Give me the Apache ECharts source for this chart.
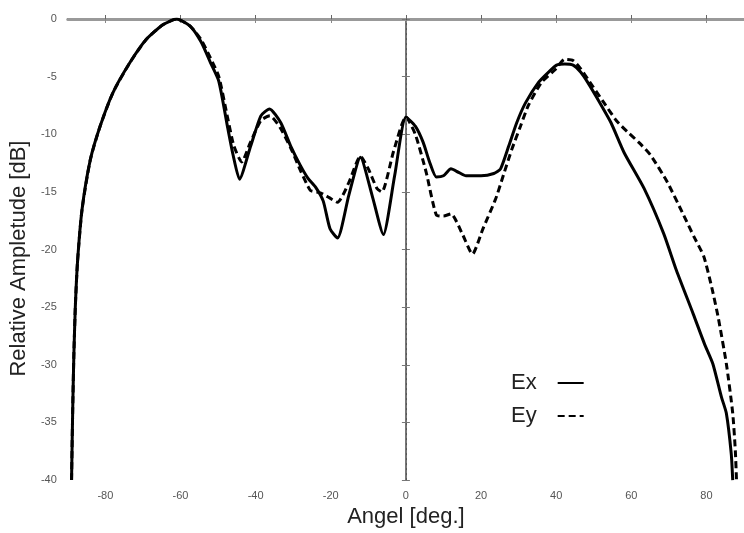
<!DOCTYPE html>
<html>
<head>
<meta charset="utf-8">
<script src="https://cdn.jsdelivr.net/npm/echarts@6/dist/echarts.min.js"></script>
<style>html,body{margin:0;padding:0;background:#fff}#c{width:744px;height:533px}</style>
</head>
<body>
<div id="c"></div>
<script>
// Angle (deg) and relative amplitude (dB)
const exData = [
  [-89,-40],[-88.7,-34],[-88.4,-29.3],[-88,-25],[-87.4,-21],[-86.2,-16.5],[-84,-12.2],
  [-81.4,-9.3],[-78,-6.4],[-73.5,-3.8],[-69.2,-1.8],[-64.7,-0.5],[-61,0],[-57.5,-0.6],
  [-54.5,-2],[-52,-3.8],[-49.8,-5.4],[-47.4,-9.5],[-46,-11.8],[-44.3,-13.9],[-41.3,-11],
  [-38.6,-8.4],[-36.3,-7.8],[-33.3,-9],[-30.7,-11],[-28.1,-12.7],[-26.1,-13.8],[-24,-14.6],
  [-22,-15.8],[-20.2,-18.2],[-18.2,-19],[-15.2,-15.3],[-12.1,-12],[-9,-15.3],[-6,-18.7],
  [-3,-13.6],[0,-8.5],[2.5,-9.3],[4.6,-10.7],[6.3,-12.4],[8.1,-13.7],[10,-13.6],[12,-13],
  [14,-13.3],[16,-13.6],[20,-13.6],[23.4,-13.4],[25.2,-13],[27.4,-11],[29.5,-9],[31.8,-7.3],
  [35.3,-5.5],[38,-4.6],[40.1,-4],[42.3,-3.9],[44.5,-4],[46.5,-4.6],[48.4,-5.5],[51.5,-7.2],
  [54.6,-9],[58.1,-11.6],[63.4,-14.7],[68.6,-18.6],[72,-21.8],[76.5,-25.6],[79.5,-28.2],
  [81.7,-29.9],[84,-32.8],[85.3,-34.2],[86.6,-37.7],[87,-40]
];
const eyData = [
  [-89,-40],[-88.7,-34],[-88.4,-29.3],[-88,-25],[-87.4,-21],[-86.2,-16.5],[-84,-12.2],
  [-81.4,-9.3],[-78,-6.4],[-73.5,-3.8],[-69.2,-1.8],[-64.7,-0.5],[-61,0],[-57.5,-0.6],
  [-54.5,-1.8],[-52,-3.4],[-49.8,-5],[-47.5,-8.5],[-45.8,-11],[-43.7,-12.4],[-41.5,-10.8],
  [-38.6,-8.8],[-36.2,-8.4],[-33.5,-9.4],[-30.5,-11.3],[-28,-13.2],[-26.1,-14.5],[-25.3,-14.9],
  [-22.6,-15.1],[-20.4,-15.5],[-18.2,-15.9],[-15.2,-14.2],[-12.1,-11.9],[-10,-13],[-7.7,-14.7],
  [-6.4,-15],[-3.3,-11.5],[0,-8.5],[2.5,-10],[5.4,-13.3],[8.1,-17],[10,-17.1],[12,-16.9],
  [15.1,-18.7],[17.7,-20.4],[20.5,-18.2],[23.9,-15.6],[26,-13.5],[28.2,-11.3],[30.5,-9.3],
  [32.6,-7.5],[36.1,-5.5],[39.7,-4.4],[42.3,-3.5],[44.5,-3.6],[46.5,-4.3],[48.4,-5.2],
  [52.8,-7.3],[56,-8.8],[59,-9.8],[62,-10.7],[65.1,-11.8],[69.5,-14.1],[73.9,-17],
  [76.7,-18.9],[79.3,-20.6],[81.5,-23.4],[83.2,-26],[85.3,-29.9],[87,-34.2],[87.7,-37.5],[88,-40]
];
const seriesNames = ['Ex','Ey'];
const xTickValues = [-80,-60,-40,-20,0,20,40,60,80];
const yTicks = {min:-40, max:0, interval:5};

const chart = echarts.init(document.getElementById('c'), null, {renderer:'canvas'});
const font = 'Liberation Sans, Arial, Helvetica, sans-serif';
const tickLabel = {color:'#555', fontSize:11, fontFamily:font};
chart.setOption({
  animation:false,
  backgroundColor:'#fff',
  grid:{left:66, top:19, width:680, height:464, containLabel:false},
  legend:{
    orient:'vertical', left:506, top:367, align:'right',
    itemWidth:26, itemHeight:14, itemGap:11,
    itemStyle:{opacity:0, borderWidth:0},
    textStyle:{fontSize:22, fontFamily:font, color:'#222', padding:[0,16,0,0]},
    data:seriesNames
  },
  xAxis:[{
    type:'value', min:-90, max:90, position:'bottom',
    name:'Angel [deg.]', nameLocation:'middle', nameGap:22,
    nameTextStyle:{fontSize:22, fontFamily:font, color:'#222'},
    axisLine:{lineStyle:{color:'#666', width:2}},
    axisTick:{inside:true, length:4, customValues:xTickValues, lineStyle:{color:'#666'}},
    axisLabel:Object.assign({margin:10, customValues:xTickValues}, tickLabel),
    splitLine:{show:false}
  },{
    type:'value', min:-90, max:90, position:'top',
    axisLine:{lineStyle:{color:'#999', width:3}},
    axisTick:{inside:true, length:4, customValues:xTickValues, lineStyle:{color:'#888'}},
    axisLabel:{show:false}, splitLine:{show:false}
  }],
  yAxis:[{
    type:'value', min:yTicks.min, max:yTicks.max, interval:yTicks.interval, position:'left',
    name:'Relative Ampletude [dB]', nameLocation:'middle', nameGap:33,
    nameTextStyle:{fontSize:22, fontFamily:font, color:'#222', padding:[0,18,0,0]},
    axisLine:{lineStyle:{color:'#777', width:2}},
    axisTick:{inside:true, length:4, lineStyle:{color:'#777'}},
    axisLabel:Object.assign({margin:11}, tickLabel),
    splitLine:{show:false}
  },{
    type:'value', min:yTicks.min, max:yTicks.max, interval:yTicks.interval, position:'right',
    axisLine:{lineStyle:{color:'#777', width:2}},
    axisTick:{inside:true, length:4, lineStyle:{color:'#777'}},
    axisLabel:{show:false}, splitLine:{show:false}
  }],
  series:[{
    name:seriesNames[0], type:'line', data:exData, showSymbol:false, symbol:'none', smooth:0.2,
    lineStyle:{color:'#000', width:3, type:'solid'}, itemStyle:{color:'#000'},
    markLine:{silent:true, symbol:['none','none'], label:{show:false},
      lineStyle:{color:'#555', type:[2,3], width:1},
      data:[{xAxis:0}]}
  },{
    name:seriesNames[1], type:'line', data:eyData, showSymbol:false, symbol:'none', smooth:0.2,
    lineStyle:{color:'#000', width:3, type:[7,4]}, itemStyle:{color:'#000'}
  }]
});
</script>
</body>
</html>
